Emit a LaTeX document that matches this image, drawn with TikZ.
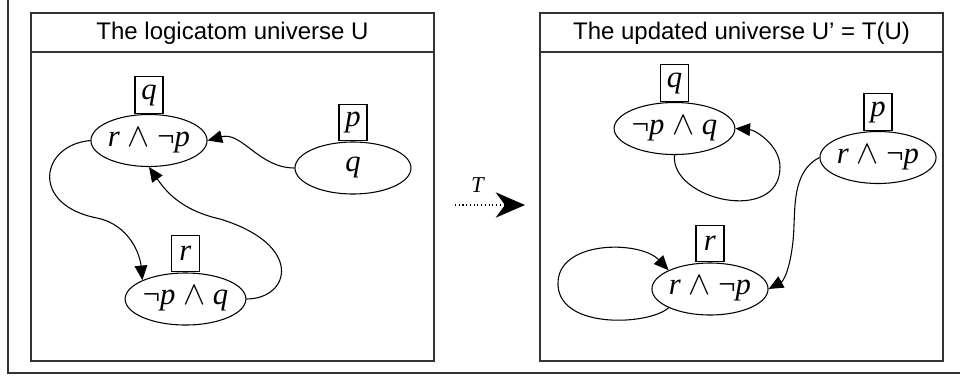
\documentclass[tikz,border=0pt]{standalone}
\usepackage{fontspec}
\setmainfont{Liberation Sans}
\newfontfamily\tnr{Liberation Serif}
\newcommand\wedgesym{\ensuremath{\wedge}}
\usetikzlibrary{positioning}
\usetikzlibrary{shapes.geometric}
\usetikzlibrary{arrows.meta}

\begin{document}
\begin{tikzpicture}[x=0.75pt,y=-0.75pt,
        atom/.style={ellipse,draw,line width=0.8pt,minimum width=87pt,minimum height=39pt,inner sep=0pt,font=\tnr\fontsize{23}{25}\selectfont},
        tag/.style={rectangle,draw,line width=0.8pt,minimum width=21pt,minimum height=27.5pt,inner sep=2pt,font=\tnr\fontsize{23}{25}\selectfont},
        edge/.style={line width=0.8pt,-{Triangle[length=11pt,width=9.5pt]}},
        panel/.style={line width=1.1pt,draw=black!80},
        title/.style={font=\fontsize{18}{20}\selectfont}]

            %\draw [help lines,step=20] (0,0) grid (960,383);
            \useasboundingbox (0,0) rectangle (960,383);
            \draw[panel] (8,-10) |- (970,373);

            % the logicatom universe U
            \draw[panel] (31,13) rectangle (434,361);
            \draw[panel] (31,52) -- (434,52);
            \node (tl) [title] at (232.5,33) {The logicatom universe U};

            \path   (149,140.5) node (a) [atom] {\textit{r} \wedgesym{} ¬\textit{p}}
                    (353,168)   node (b) [atom] {\textit{q}}
                    (185.5,299) node (c) [atom] {¬\textit{p} \wedgesym{} \textit{q}};
            \node (la) [tag,above=0pt of a] {\textit{q}};
            \node (lb) [tag,above=0pt of b] {\textit{p}};
            \node (lc) [tag,above=0pt of c] {\textit{r}};

            \draw[edge] (b.west) to[out=180,in=15] (a.east);
            \draw[edge] (a.west) .. controls (40,145) and (30,205) .. (97,218)
                        .. controls (130,225) and (140,255) .. (c.north west);
            \draw[edge] (c.east) .. controls (290,299) and (305,245) .. (220,219)
                        .. controls (180,210) and (165,190) .. (a.south);

            % the map T
            \node (t) at (478,185) [font=\tnr\fontsize{17}{18}\selectfont] {\textit{T}};
            \coordinate (ts) at (455,205);
            \coordinate (te) at (525,205);
            \draw[dotted,line width=0.8pt,-{Stealth[length=22pt,width=19pt,inset=7pt]}] (ts) -- (te);

            % the updated universe U'
            \draw[panel] (540,13) rectangle (943,361);
            \draw[panel] (540,52) -- (943,52);
            \node (tr) [title] at (741.5,33) {The updated universe U’ = T(U)};

            \path   (674.5,128.5) node (d) [atom] {¬\textit{p} \wedgesym{} \textit{q}}
                    (878,157.5)   node (e) [atom] {\textit{r} \wedgesym{} ¬\textit{p}}
                    (710,289)     node (f) [atom] {\textit{r} \wedgesym{} ¬\textit{p}};
            \node (ld) [tag,above=0pt of d] {\textit{q}};
            \node (le) [tag,above=0pt of e] {\textit{p}};
            \node (lf) [tag,above=0pt of f] {\textit{r}};

            \draw[edge] (d.south) .. controls (670,200) and (780,225) .. (780,167)
                        .. controls (780,145) and (755,130) .. (d.east);
            \draw[edge] (e.west) .. controls (795,170) and (795,200) .. (794,225)
                        .. controls (793,260) and (785,280) .. (f.east);
            \draw[edge] (f.south west) .. controls (650,325) and (560,330) .. (558,285)
                        .. controls (556,240) and (640,240) .. (f.north west);

        \end{tikzpicture}
\end{document}
